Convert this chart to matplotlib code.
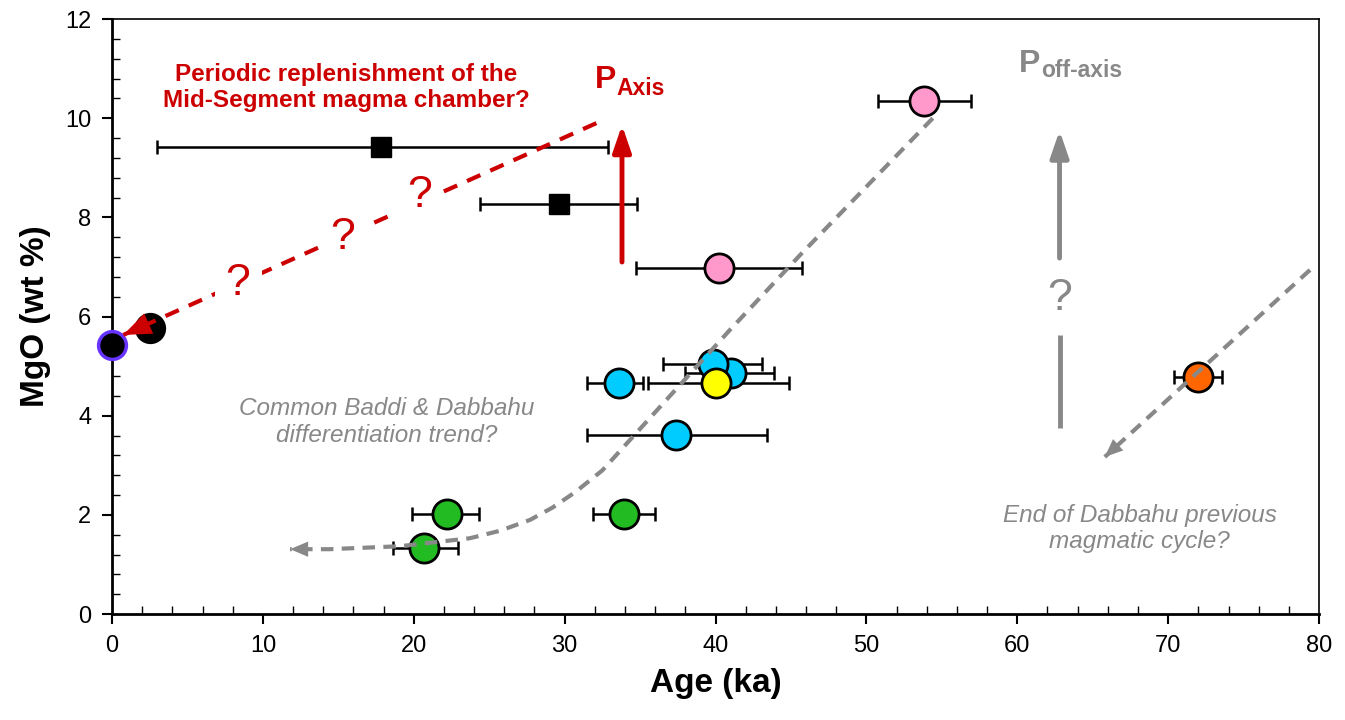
import matplotlib as mlp
import matplotlib.pyplot as plt
import numpy as np
from matplotlib.ticker import MultipleLocator

mlp.rcParams['font.family'] = ['Liberation Sans', 'DejaVu Sans']

# data (age in ka, MgO in wt %)
sq_age = [17.8, 29.6]
sq_mgo = [9.42, 8.27]
sq_lo = [3.0, 24.4]
sq_hi = [32.9, 34.8]

circ_age = [53.8, 40.2, 41.0, 39.8, 33.6, 37.4, 40.0, 22.2, 20.7, 33.9, 72.0]
circ_mgo = [10.34, 6.98, 4.86, 5.04, 4.66, 3.61, 4.66, 2.02, 1.33, 2.02, 4.78]
circ_lo = [50.8, 34.7, 38.0, 36.5, 31.5, 31.5, 35.5, 19.9, 18.6, 31.9, 70.4]
circ_hi = [56.9, 45.7, 43.9, 43.1, 35.2, 43.4, 44.9, 24.3, 22.9, 36.0, 73.6]
circ_col = ['#FF99CC', '#FF99CC', '#00CCFF', '#00CCFF', '#00CCFF', '#00CCFF',
            '#FFFF00', '#22BB22', '#22BB22', '#22BB22', '#FF6600']

blk_age = [2.5, 0.0]
blk_mgo = [5.77, 5.42]
blk_edge = ['black', '#6633FF']

# annotation paths
red_x = [32.1, 0.75]
red_y = [9.9, 5.63]
trend_x = [54.4, 45.6, 40.95, 32.5, 30.7, 29.2, 27.7, 25.7, 23.7, 19.1, 14.4, 11.8]
trend_y = [10.0, 7.24, 5.73, 2.90, 2.46, 2.15, 1.90, 1.68, 1.53, 1.37, 1.31, 1.31]
end_x = [79.4, 65.8]
end_y = [6.94, 3.17]

red = '#CC0000'
grey = '#888888'

fig, ax = plt.subplots(figsize=(13.45, 7.2), dpi=100)
fig.subplots_adjust(left=0.0833, right=0.9807, bottom=0.147, top=0.9736)


def head(xs, ys, col, hl, hw):
    # arrow head at the end of a path, pointing along its last segment
    x0 = xs[-1] + 0.12 * (xs[-2] - xs[-1])
    y0 = ys[-1] + 0.12 * (ys[-2] - ys[-1])
    ax.annotate('', xy=(xs[-1], ys[-1]), xytext=(x0, y0),
                arrowprops=dict(arrowstyle='-|>,head_length=%s,head_width=%s' % (hl, hw),
                                color=col, lw=0, shrinkA=0, shrinkB=0), zorder=5)


# error bars
for i in range(len(sq_age)):
    ax.errorbar(sq_age[i], sq_mgo[i],
                xerr=[[sq_age[i] - sq_lo[i]], [sq_hi[i] - sq_age[i]]],
                fmt='none', ecolor='black', elinewidth=1.8, capsize=4.7,
                capthick=1.8, zorder=2)
for i in range(len(circ_age)):
    ax.errorbar(circ_age[i], circ_mgo[i],
                xerr=[[circ_age[i] - circ_lo[i]], [circ_hi[i] - circ_age[i]]],
                fmt='none', ecolor='black', elinewidth=1.8, capsize=4.7,
                capthick=1.8, zorder=2)

# markers
ax.plot(sq_age, sq_mgo, 's', ms=14, color='black', zorder=3)
for i in range(len(circ_age)):
    ax.plot(circ_age[i], circ_mgo[i], 'o', ms=21, mfc=circ_col[i],
            mec='black', mew=2, zorder=3)
for i in range(len(blk_age)):
    ax.plot(blk_age[i], blk_mgo[i], 'o', ms=20, mfc='black',
            mec=blk_edge[i], mew=2.5, zorder=3, clip_on=False)

# red dashed arrow with question marks
ax.plot(red_x, red_y, color=red, lw=3, ls=(0, (3.5, 2.6)), zorder=4)
head(red_x, red_y, red, 2.0, 0.8)
for qx, qy in [(20.4, 8.45), (15.3, 7.6), (8.35, 6.67)]:
    ax.text(qx, qy, '?', color=red, fontsize=32, ha='center', va='center',
            zorder=6, bbox=dict(fc='white', ec='none', pad=8))

# red P axis arrow
ax.annotate('', xy=(33.8, 9.86), xytext=(33.8, 7.1),
            arrowprops=dict(arrowstyle='-|>,head_length=1.6,head_width=0.55',
                            color=red, lw=3.5, shrinkA=0, shrinkB=0), zorder=5)

# grey trend curve and end-of-cycle line
ax.plot(trend_x, trend_y, color=grey, lw=3, ls=(0, (3, 2)), zorder=4)
head([13.0, trend_x[-1]], [1.31, trend_y[-1]], grey, 1.3, 0.55)
ax.plot(end_x, end_y, color=grey, lw=3, ls=(0, (3, 2)), zorder=4)
head(end_x, end_y, grey, 1.3, 0.55)

# grey P off-axis arrow, broken by a question mark
ax.plot([62.8, 62.8], [3.75, 5.62], color=grey, lw=3.5, solid_capstyle='butt', zorder=5)
ax.annotate('', xy=(62.8, 9.75), xytext=(62.8, 7.18),
            arrowprops=dict(arrowstyle='-|>,head_length=1.6,head_width=0.55',
                            color=grey, lw=3.5, shrinkA=0, shrinkB=0), zorder=5)
ax.text(62.8, 6.37, '?', color=grey, fontsize=32, ha='center', va='center', zorder=6)

# texts
ax.text(15.5, 10.62, 'Periodic replenishment of the\nMid-Segment magma chamber?',
        color=red, fontsize=17.5, fontweight='bold', ha='center', va='center',
        linespacing=1.2)
ax.text(32.0, 10.6, 'P', color=red, fontsize=23, fontweight='bold', va='baseline')
ax.text(33.45, 10.46, 'Axis', color=red, fontsize=16.5, fontweight='bold', va='baseline')
ax.text(60.1, 10.93, 'P', color=grey, fontsize=23, fontweight='bold', va='baseline')
ax.text(61.55, 10.83, 'off-axis', color=grey, fontsize=16.5, fontweight='bold', va='baseline')
ax.text(18.2, 3.87, 'Common Baddi & Dabbahu\ndifferentiation trend?', color=grey,
        fontsize=17.5, style='italic', ha='center', va='center', linespacing=1.2)
ax.text(68.1, 1.73, 'End of Dabbahu previous\nmagmatic cycle?', color=grey,
        fontsize=17.5, style='italic', ha='center', va='center', linespacing=1.2)

# axes
ax.set_xlim(0, 80)
ax.set_ylim(0, 12)
ax.xaxis.set_major_locator(MultipleLocator(10))
ax.xaxis.set_minor_locator(MultipleLocator(2))
ax.yaxis.set_major_locator(MultipleLocator(2))
ax.yaxis.set_minor_locator(MultipleLocator(0.4))
ax.tick_params(which='major', direction='out', length=7, width=1.5, labelsize=17, pad=8)
ax.tick_params(which='minor', direction='in', length=6, width=1)
for s in ax.spines.values():
    s.set_linewidth(1.2)
ax.spines['left'].set_linewidth(2)
ax.spines['bottom'].set_linewidth(2)

ax.set_xlabel('Age (ka)', fontsize=24, fontweight='bold', labelpad=8)
ax.set_ylabel('MgO (wt %)', fontsize=24, fontweight='bold', labelpad=10)

plt.savefig('out.png', dpi=100)
